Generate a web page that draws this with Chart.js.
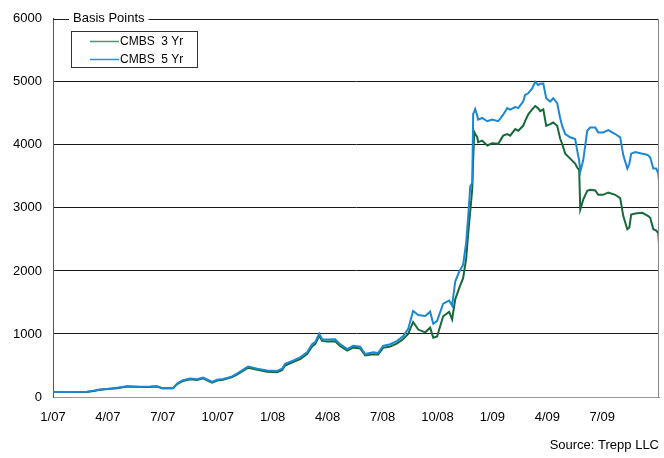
<!DOCTYPE html>
<html>
<head>
<meta charset="utf-8">
<script src="https://cdn.jsdelivr.net/npm/chart.js@4"></script>
<style>
  html, body { margin: 0; padding: 0; background: #fff; }
</style>
</head>
<body>
<canvas id="spread-chart" width="664" height="458"></canvas>
<script>
// x position of each observation, in months since Jan 2007
const months = [
    0, 0.93, 1.86, 2.30, 2.57, 3.01, 3.50, 4.04, 4.75, 5.30, 5.68, 5.96, 6.56, 6.78, 7.10, 7.49,
    7.87, 8.20, 8.47, 8.69, 8.96, 9.29, 9.56, 9.78, 10.05, 10.33, 10.66, 10.87, 11.15, 11.69, 12.24, 12.51,
    12.68, 13.11, 13.50, 13.88, 14.15, 14.32, 14.54, 14.70, 14.97, 15.41, 15.68, 16.07, 16.39, 16.78, 17.05, 17.49,
    17.76, 18.03, 18.42, 18.80, 19.13, 19.40, 19.67, 19.95, 20.33, 20.60, 20.77, 20.98, 21.31, 21.64, 21.80, 21.97,
    22.19, 22.40, 22.57, 22.68, 22.79, 22.90, 22.95, 23.01, 23.06, 23.17, 23.22, 23.44, 23.72, 23.99, 24.32, 24.59,
    24.81, 24.97, 25.25, 25.41, 25.68, 25.79, 25.96, 26.17, 26.34, 26.50, 26.61, 26.78, 26.94, 27.16, 27.32, 27.54,
    27.70, 27.81, 27.98, 28.25, 28.52, 28.63, 28.74, 28.80, 28.96, 29.18, 29.34, 29.62, 29.78, 30.05, 30.33, 30.71,
    30.98, 31.15, 31.37, 31.48, 31.58, 31.80, 32.19, 32.35, 32.51, 32.62, 32.79, 32.95, 33.06, 33.10
];

const cmbs5Yr = [
    80, 80, 82, 105, 120, 130, 146, 170, 162, 165, 172, 140, 140, 214, 266, 292,
    281, 307, 270, 240, 275, 287, 307, 328, 370, 422, 484, 470, 448, 422, 414, 448,
    526, 578, 630, 708, 838, 870, 1005, 917, 911, 917, 838, 760, 812, 800, 682, 708,
    700, 812, 838, 890, 968, 1080, 1365, 1300, 1286, 1354, 1160, 1208, 1480, 1530, 1450, 1833,
    1990, 2094, 2458, 2875, 3344, 3396, 4490, 4530, 4568, 4464, 4401, 4427, 4375, 4401, 4375, 4479,
    4583, 4560, 4600, 4583, 4688, 4792, 4818, 4896, 5000, 4948, 4970, 4974, 4740, 4688, 4740, 4661,
    4427, 4300, 4172, 4120, 4094, 3912, 3750, 3573, 3755, 4224, 4276, 4276, 4198, 4198, 4234, 4172,
    4120, 3834, 3625, 3700, 3860, 3886, 3860, 3850, 3834, 3800, 3625, 3625, 3547, 3417
];

const cmbs3Yr = [
    78, 78, 80, 100, 115, 125, 140, 165, 158, 160, 165, 140, 138, 205, 255, 280,
    270, 295, 258, 228, 262, 275, 295, 315, 355, 405, 465, 450, 430, 400, 392, 425,
    500, 555, 600, 680, 800, 840, 970, 890, 880, 885, 810, 735, 785, 770, 660, 680,
    675, 780, 800, 850, 920, 1000, 1190, 1070, 1026, 1100, 940, 960, 1280, 1350, 1230, 1550,
    1730, 1885, 2198, 2600, 2950, 3300, 3760, 4203, 4172, 4125, 4042, 4068, 3990, 4026, 4016, 4146,
    4172, 4146, 4250, 4224, 4302, 4380, 4484, 4563, 4615, 4580, 4536, 4563, 4302, 4328, 4354, 4302,
    4100, 4016, 3860, 3782, 3703, 3640, 3599, 2974, 3130, 3270, 3286, 3276, 3208, 3208, 3245, 3208,
    3156, 2870, 2662, 2688, 2896, 2910, 2922, 2896, 2870, 2844, 2662, 2640, 2600, 2427
];

// one label per quarter, starting Jan 2007
const tickLabels = ['1/07', '4/07', '7/07', '10/07', '1/08', '4/08', '7/08', '10/08', '1/09', '4/09', '7/09'];

const seriesNames = ['CMBS  3 Yr', 'CMBS  5 Yr'];
const seriesColors = ['#15693a', '#1c87d2'];
const legendColors = ['#4f9574', '#2a8fd8'];

const axisTitle = 'Basis Points';
const sourceNote = 'Source: Trepp LLC';

const FONT = '"Liberation Sans", Arial, sans-serif';

function points(values) {
    let out = [];
    for (i = 0; i < values.length; i++) {
        out.push({ x: months[i], y: values[i] });
    }
    return out;
}

// frame, title gap, legend box and source line
const decorations = {
    id: 'decorations',
    afterDraw(chart) {
        const ctx = chart.ctx;
        const a = chart.chartArea;
        ctx.save();

        // top border with the axis title sitting in a gap
        ctx.font = '13px ' + FONT;
        ctx.textBaseline = 'middle';
        ctx.fillStyle = '#000';
        const titleX = a.left + 20;
        const titleW = ctx.measureText(axisTitle).width;
        ctx.fillText(axisTitle, titleX, a.top);

        ctx.strokeStyle = '#222';
        ctx.lineWidth = 1;
        ctx.beginPath();
        ctx.moveTo(a.left, Math.round(a.top) + 0.5);
        ctx.lineTo(titleX - 4, Math.round(a.top) + 0.5);
        ctx.moveTo(titleX + titleW + 4, Math.round(a.top) + 0.5);
        ctx.lineTo(a.right, Math.round(a.top) + 0.5);
        ctx.stroke();

        // right border
        ctx.strokeStyle = '#888';
        ctx.beginPath();
        ctx.moveTo(Math.round(a.right) - 0.5, a.top);
        ctx.lineTo(Math.round(a.right) - 0.5, a.bottom);
        ctx.stroke();

        // legend
        const bx = 71.5, by = 31.5, bw = 126, bh = 36;
        ctx.fillStyle = '#fff';
        ctx.fillRect(bx, by, bw, bh);
        ctx.strokeStyle = '#333';
        ctx.strokeRect(bx, by, bw, bh);
        ctx.font = '12px ' + FONT;
        chart.data.datasets.forEach((ds, k) => {
            const y = 41.5 + k * 18;
            ctx.strokeStyle = legendColors[k];
            ctx.lineWidth = 1.5;
            ctx.beginPath();
            ctx.moveTo(90, y);
            ctx.lineTo(119, y);
            ctx.stroke();
            ctx.fillStyle = '#000';
            ctx.fillText(ds.label, 120, y);
        });

        // source
        ctx.font = '13px ' + FONT;
        ctx.textAlign = 'right';
        ctx.fillText(sourceNote, 659, 445);
        ctx.restore();
    }
};

const ctx = document.getElementById('spread-chart').getContext('2d');

const chart = new Chart(ctx, {
    type: 'line',
    plugins: [decorations],
    data: {
        datasets: [{
            label: seriesNames[0],
            data: points(cmbs3Yr),
            borderColor: seriesColors[0],
            borderWidth: 2,
            order: 2
        }, {
            label: seriesNames[1],
            data: points(cmbs5Yr),
            borderColor: seriesColors[1],
            borderWidth: 2,
            order: 1
        }]
    },
    options: {
        responsive: false,
        animation: false,
        devicePixelRatio: 1,
        layout: {
            padding: { top: 13, right: 5, left: 0, bottom: 0 }
        },
        elements: {
            point: { radius: 0 },
            line: { tension: 0 }
        },
        scales: {
            x: {
                type: 'linear',
                min: 0,
                max: 33.1,
                afterFit: (scale) => { scale.height = 61; },
                grid: { display: false, drawTicks: false },
                border: { display: true, color: '#999' },
                ticks: {
                    stepSize: 3,
                    includeBounds: false,
                    autoSkip: false,
                    maxRotation: 0,
                    padding: 13,
                    color: '#000',
                    font: { size: 13, family: FONT },
                    callback: (v) => tickLabels[v / 3] || null
                }
            },
            y: {
                min: 0,
                max: 6000,
                afterFit: (scale) => { scale.width = 53; },
                grid: {
                    drawTicks: false,
                    color: (c) => c.tick.value === 0 ? '#999' : (c.tick.value === 6000 ? 'rgba(0,0,0,0)' : '#1a1a1a')
                },
                border: { display: true, color: '#555' },
                ticks: {
                    stepSize: 1000,
                    padding: 11,
                    color: '#000',
                    font: { size: 13, family: FONT },
                    callback: (v) => String(v)
                }
            }
        },
        plugins: {
            legend: { display: false },
            tooltip: { enabled: false }
        }
    }
});
</script>
</body>
</html>
